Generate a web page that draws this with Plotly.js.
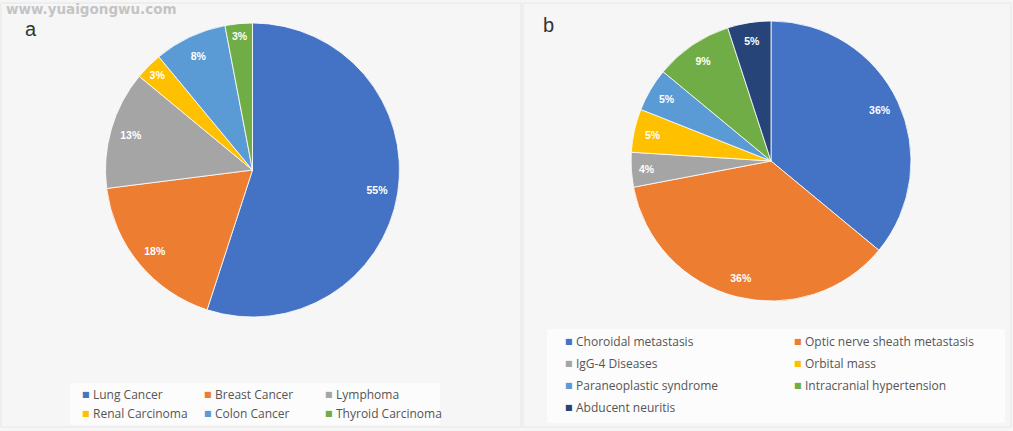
<!DOCTYPE html>
<html>
<head>
<meta charset="utf-8">
<script src="https://cdn.plot.ly/plotly-3.0.1.min.js"></script>
<style>
html,body{margin:0;padding:0;background:#f6f6f6;}
#chart{width:1013px;height:431px;}
</style>
</head>
<body>
<div id="chart"></div>
<script>
// Panel a: primary tumour types (%)
const labelsA = ["Lung Cancer", "Breast Cancer", "Lymphoma", "Renal Carcinoma", "Colon Cancer", "Thyroid Carcinoma"];
const valuesA = [55, 18, 13, 3, 8, 3];
const colorsA = ["#4472C4", "#ED7D31", "#A5A5A5", "#FFC000", "#5B9BD5", "#70AD47"];

// Panel b: ocular manifestations (%)
const labelsB = ["Choroidal metastasis", "Optic nerve sheath metastasis", "IgG-4 Diseases", "Orbital mass",
                 "Paraneoplastic syndrome", "Intracranial hypertension", "Abducent neuritis"];
const valuesB = [36, 36, 4, 5, 5, 9, 5];
const colorsB = ["#4472C4", "#ED7D31", "#A5A5A5", "#FFC000", "#5B9BD5", "#70AD47", "#264478"];

const panelLetters = ["a", "b"];
const watermark = "www.yuaigongwu.com";

const W = 1013, H = 431;
const px = v => v / W;
const py = v => 1 - v / H;

const labelFont = {family: "Liberation Sans, Arial, sans-serif", size: 10.5, color: "#ffffff", weight: "bold"};
const domA = {x: [px(105.5), px(399.5)], y: [py(317), py(23)]};
const domB = {x: [px(631), px(911)], y: [py(301), py(21)]};

function pieSlices(labels, values, colors, dom) {
  return {
    type: "pie", labels: labels, values: values, sort: false, direction: "clockwise", rotation: 0,
    marker: {colors: colors, line: {color: "#ffffff", width: 0.8}},
    textinfo: "none", hoverinfo: "none", showlegend: false, domain: dom
  };
}
// transparent ring of the same slices, used only to place the percentage labels near the rim
function pieLabels(labels, values, dom) {
  return {
    type: "pie", labels: labels, values: values, sort: false, direction: "clockwise", rotation: 0, hole: 0.72,
    marker: {colors: values.map(() => "rgba(0,0,0,0)"), line: {width: 0}},
    texttemplate: "%{value}%", textposition: "inside", insidetextorientation: "horizontal",
    textfont: labelFont, hoverinfo: "none", showlegend: false, domain: dom
  };
}

const legendFont = {family: "Open Sans, Noto Sans, sans-serif", size: 12, color: "#555555"};

// legend entries drawn as text annotations built from the label / colour arrays
function legendAnnotations(labels, colors, cols, x0, dx, y0, dy) {
  const out = [];
  labels.forEach((lab, i) => {
    const c = i % cols, r = Math.floor(i / cols);
    const x = x0 + c * dx, y = y0 + r * dy;
    out.push({text: "■", xref: "paper", yref: "paper", x: px(x), y: py(y), xanchor: "center", yanchor: "middle",
              showarrow: false, font: {family: "DejaVu Sans, sans-serif", size: 8, color: colors[i]}});
    out.push({text: lab, xref: "paper", yref: "paper", x: px(x + 5), y: py(y), xanchor: "left", yanchor: "middle",
              showarrow: false, font: legendFont});
  });
  return out;
}

const layout = {
  width: W, height: H,
  margin: {l: 0, r: 0, t: 0, b: 0},
  paper_bgcolor: "#f6f6f6",
  showlegend: false,
  shapes: [
    {type: "rect", xref: "paper", yref: "paper", x0: px(1), x1: px(521), y0: py(427), y1: py(3),
     line: {color: "#e6e6e6", width: 1}, layer: "below"},
    {type: "rect", xref: "paper", yref: "paper", x0: px(523), x1: px(1011), y0: py(427), y1: py(3),
     line: {color: "#e6e6e6", width: 1}, layer: "below"},
    {type: "rect", xref: "paper", yref: "paper", x0: px(70), x1: px(440), y0: py(425), y1: py(383),
     line: {width: 0}, fillcolor: "#fcfcfc", layer: "below"},
    {type: "rect", xref: "paper", yref: "paper", x0: px(547), x1: px(1005), y0: py(423), y1: py(329),
     line: {width: 0}, fillcolor: "#fcfcfc", layer: "below"}
  ],
  annotations: [
    {text: panelLetters[0], xref: "paper", yref: "paper", x: px(31), y: py(28.5), xanchor: "center", yanchor: "middle",
     showarrow: false, borderpad: 0, font: {family: "Liberation Sans, Arial, sans-serif", size: 20, color: "#333333"}},
    {text: panelLetters[1], xref: "paper", yref: "paper", x: px(548), y: py(25), xanchor: "center", yanchor: "middle",
     showarrow: false, font: {family: "Liberation Sans, Arial, sans-serif", size: 20, color: "#333333"}},
    {text: watermark, xref: "paper", yref: "paper", x: px(5), xanchor: "left", y: py(9), yanchor: "middle",
     showarrow: false, borderpad: 0, font: {family: "DejaVu Sans, sans-serif", size: 13.5, color: "#c4c4c4", weight: "bold"}}
  ]
    .concat(legendAnnotations(labelsA, colorsA, 3, 86, 121.5, 394, 19))
    .concat(legendAnnotations(labelsB, colorsB, 2, 569, 229, 341, 22.3))
};

Plotly.newPlot("chart", [
  pieSlices(labelsA, valuesA, colorsA, domA), pieLabels(labelsA, valuesA, domA),
  pieSlices(labelsB, valuesB, colorsB, domB), pieLabels(labelsB, valuesB, domB)
], layout, {displayModeBar: false, staticPlot: true});
</script>
</body>
</html>
